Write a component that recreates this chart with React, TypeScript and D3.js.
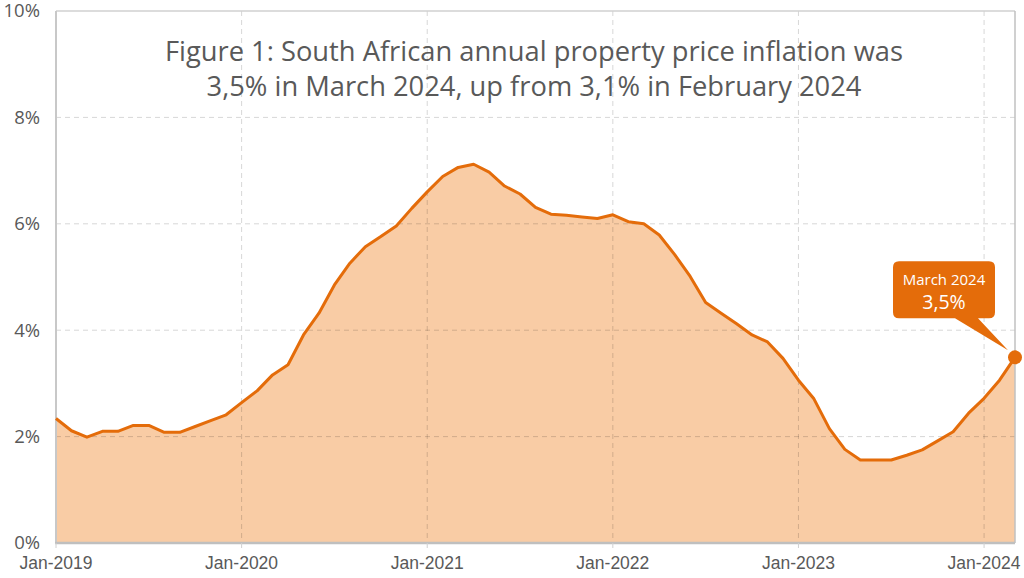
import React from "react";
import * as d3 from "d3";

const months: string[] = [
  "Jan-2019","Feb-2019","Mar-2019","Apr-2019","May-2019","Jun-2019","Jul-2019","Aug-2019","Sep-2019","Oct-2019","Nov-2019","Dec-2019",
  "Jan-2020","Feb-2020","Mar-2020","Apr-2020","May-2020","Jun-2020","Jul-2020","Aug-2020","Sep-2020","Oct-2020","Nov-2020","Dec-2020",
  "Jan-2021","Feb-2021","Mar-2021","Apr-2021","May-2021","Jun-2021","Jul-2021","Aug-2021","Sep-2021","Oct-2021","Nov-2021","Dec-2021",
  "Jan-2022","Feb-2022","Mar-2022","Apr-2022","May-2022","Jun-2022","Jul-2022","Aug-2022","Sep-2022","Oct-2022","Nov-2022","Dec-2022",
  "Jan-2023","Feb-2023","Mar-2023","Apr-2023","May-2023","Jun-2023","Jul-2023","Aug-2023","Sep-2023","Oct-2023","Nov-2023","Dec-2023",
  "Jan-2024","Feb-2024","Mar-2024",
];

const inflation: number[] = [
  2.34, 2.11, 1.99, 2.10, 2.10, 2.21, 2.21, 2.08, 2.08, 2.19, 2.30, 2.41,
  2.64, 2.86, 3.16, 3.35, 3.91, 4.32, 4.85, 5.26, 5.57, 5.76, 5.96, 6.29,
  6.60, 6.89, 7.06, 7.12, 6.97, 6.71, 6.56, 6.31, 6.18, 6.16, 6.13, 6.10,
  6.17, 6.04, 6.00, 5.79, 5.42, 5.01, 4.52, 4.32, 4.12, 3.91, 3.78, 3.47,
  3.06, 2.71, 2.15, 1.76, 1.56, 1.56, 1.56, 1.65, 1.75, 1.92, 2.09, 2.44,
  2.72, 3.06, 3.49,
];

const xTickLabels: string[] = ["Jan-2019", "Jan-2020", "Jan-2021", "Jan-2022", "Jan-2023", "Jan-2024"];
const yTicks: number[] = [0, 2, 4, 6, 8, 10];

const titleLines: string[] = [
  "Figure 1: South African annual property price inflation was",
  "3,5% in March 2024, up from 3,1% in February 2024",
];
const calloutLines: string[] = ["March 2024", "3,5%"];

const W = 1024;
const H = 578;
const left = 56;
const right = 1015;
const top = 11;
const bottom = 543;

const LINE = "#E46C0A";
const FILL = "#F9CCA5";

export default function App() {
  const x = d3.scaleLinear().domain([0, months.length - 1]).range([left, right]);
  const y = d3.scaleLinear().domain([0, 10]).range([bottom, top]);

  const data = inflation.map((v, i) => ({ i, v }));
  const area = d3.area<{ i: number; v: number }>().x((d) => x(d.i)).y0(y(0)).y1((d) => y(d.v));
  const line = d3.line<{ i: number; v: number }>().x((d) => x(d.i)).y((d) => y(d.v));

  const xTickIdx = xTickLabels.map((l) => months.indexOf(l));
  const last = data[data.length - 1];
  const px = x(last.i);
  const py = y(last.v);

  // callout geometry relative to last point
  const bx0 = px - 122, bx1 = px - 20, by0 = py - 96, by1 = py - 39, r = 6;
  const tailA = px - 60, tailB = px - 37;
  const tipX = px - 7, tipY = py - 7;
  const callout =
    `M${bx0 + r},${by0} H${bx1 - r} Q${bx1},${by0} ${bx1},${by0 + r} V${by1 - r} Q${bx1},${by1} ${bx1 - r},${by1} ` +
    `H${tailB} L${tipX},${tipY} L${tailA},${by1} H${bx0 + r} Q${bx0},${by1} ${bx0},${by1 - r} V${by0 + r} Q${bx0},${by0} ${bx0 + r},${by0} Z`;
  const cx = (bx0 + bx1) / 2;

  return (
    <svg width={W} height={H} style={{ position: "absolute", left: 0, top: 0, background: "#fff" }}>
      {/* area fill */}
      <path d={area(data) || ""} fill={FILL} />

      {/* gridlines */}
      {yTicks.filter((t) => t > 0 && t < 10).map((t) => (
        <line key={"h" + t} x1={left} x2={right} y1={y(t)} y2={y(t)} stroke="#000" strokeOpacity={0.16} strokeWidth={1} strokeDasharray="5,4" />
      ))}
      {xTickIdx.filter((i) => i > 0).map((i) => (
        <line key={"v" + i} x1={x(i)} x2={x(i)} y1={top} y2={bottom} stroke="#000" strokeOpacity={0.16} strokeWidth={1} strokeDasharray="5,4" />
      ))}

      {/* frame */}
      <line x1={left} x2={right} y1={top} y2={top} stroke="#d0d0d0" strokeWidth={1.5} />
      <line x1={left} x2={left} y1={top} y2={bottom} stroke="#c8c8c8" strokeWidth={2} />
      <line x1={right} x2={right} y1={top} y2={bottom} stroke="#c0c0c0" strokeWidth={1.5} />
      <line x1={left - 1} x2={right} y1={bottom} y2={bottom} stroke="#bfbfbf" strokeWidth={2.5} />
      {xTickIdx.map((i) => (
        <line key={"t" + i} x1={x(i)} x2={x(i)} y1={bottom} y2={bottom + 5} stroke="#d0d0d0" strokeWidth={1} />
      ))}

      {/* line */}
      <path d={line(data) || ""} fill="none" stroke={LINE} strokeWidth={3} strokeLinejoin="round" />
      <circle cx={px} cy={py} r={7} fill={LINE} />

      {/* y labels */}
      {yTicks.map((t) => (
        <text key={"yl" + t} x={40} y={y(t) + 1.5} textAnchor="end" dominantBaseline="middle"
          fontFamily="'Open Sans', sans-serif" fontSize={18.5} fill="#595959">
          {t}%
        </text>
      ))}

      {/* x labels */}
      {xTickIdx.map((i, k) => (
        <text key={"xl" + i} x={x(i)} y={564} textAnchor="middle" dominantBaseline="middle"
          fontFamily="'Liberation Sans', Arial, sans-serif" fontSize={17.5} fill="#595959">
          {xTickLabels[k]}
        </text>
      ))}

      {/* title */}
      {titleLines.map((t, k) => (
        <text key={"tt" + k} x={534} y={61 + k * 35} textAnchor="middle"
          fontFamily="'Open Sans', sans-serif" fontSize={27.3} fill="#595959">
          {t}
        </text>
      ))}

      {/* callout */}
      <path d={callout} fill={LINE} />
      <text x={cx} y={by0 + 20} textAnchor="middle" dominantBaseline="middle" fontFamily="'Open Sans', sans-serif" fontSize={15} fill="#fff">
        {calloutLines[0]}
      </text>
      <text x={cx} y={by0 + 42} textAnchor="middle" dominantBaseline="middle" fontFamily="'Open Sans', sans-serif" fontSize={19.5} fill="#fff">
        {calloutLines[1]}
      </text>
    </svg>
  );
}
